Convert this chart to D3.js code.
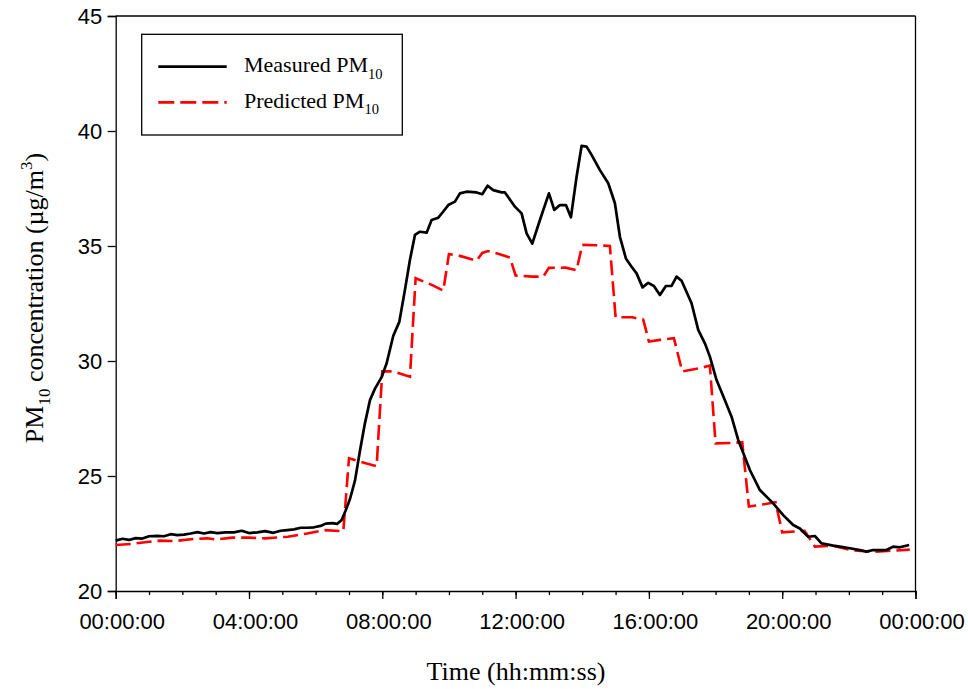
<!DOCTYPE html>
<html>
<head>
<meta charset="utf-8">
<script src="https://cdn.jsdelivr.net/npm/d3@7"></script>
<style>
  body { margin: 0; background: #fff; }
  svg { display: block; }
  .tick text { font-family: Arial, "Liberation Sans", sans-serif; font-size: 22px; fill: #000; }
  .serif { font-family: "Times New Roman", "Liberation Serif", serif; fill: #000; }
</style>
</head>
<body>
<div id="chart"></div>
<script>
// measured PM10, hours since midnight
const measuredHours = [0, 0.2, 0.4, 0.6, 0.8, 1.0, 1.25, 1.45, 1.65, 1.85, 2.05, 2.25, 2.45, 2.65, 2.85, 3.05, 3.3, 3.55, 3.78, 4.0,
  4.25, 4.48, 4.73, 4.95, 5.15, 5.35, 5.55, 5.75, 5.95, 6.15, 6.3, 6.5, 6.65, 6.78, 6.9, 7.03, 7.18, 7.33, 7.48, 7.63,
  7.78, 7.98, 8.13, 8.33, 8.51, 8.68, 8.83, 8.98, 9.13, 9.33, 9.48, 9.68, 9.83, 9.98, 10.18, 10.33, 10.53, 10.83, 11.0, 11.16,
  11.33, 11.58, 11.68, 11.98, 12.18, 12.33, 12.5, 12.73, 13.0, 13.16, 13.33, 13.51, 13.66, 13.83, 13.98, 14.13, 14.28, 14.53, 14.78, 14.98,
  15.13, 15.31, 15.48, 15.63, 15.81, 15.98, 16.15, 16.33, 16.51, 16.68, 16.83, 16.98, 17.28, 17.48, 17.68, 17.83, 18.03, 18.25, 18.48, 18.68,
  19.03, 19.33, 19.73, 20.03, 20.33, 20.53, 20.78, 20.98, 21.18, 21.53, 21.73, 22.03, 22.33, 22.53, 22.73, 23.13, 23.33, 23.53, 23.81];
const measuredValues = [22.19, 22.27, 22.22, 22.3, 22.28, 22.38, 22.4, 22.38, 22.47, 22.43, 22.45, 22.5, 22.56, 22.5, 22.56, 22.52, 22.55, 22.55, 22.62, 22.52,
  22.55, 22.6, 22.53, 22.62, 22.65, 22.68, 22.75, 22.75, 22.77, 22.83, 22.93, 22.95, 22.92, 23.09, 23.5, 24.0, 24.8, 26.1, 27.3, 28.3,
  28.8, 29.3, 29.9, 31.1, 31.7, 33.1, 34.4, 35.48, 35.62, 35.58, 36.13, 36.23, 36.5, 36.78, 36.93, 37.29, 37.36, 37.33, 37.25, 37.62,
  37.43, 37.33, 37.33, 36.71, 36.42, 35.55, 35.1, 36.13, 37.29, 36.57, 36.78, 36.78, 36.25, 38.01, 39.35, 39.32, 38.96, 38.3, 37.73, 36.86,
  35.4, 34.46, 34.1, 33.81, 33.2, 33.4, 33.26, 32.87, 33.26, 33.27, 33.67, 33.49, 32.51, 31.35, 30.77, 30.19, 29.17, 28.4, 27.58, 26.57,
  25.26, 24.39, 23.81, 23.3, 22.87, 22.72, 22.36, 22.39, 22.07, 21.97, 21.93, 21.86, 21.78, 21.71, 21.78, 21.78, 21.93, 21.9, 22.0];

// predicted PM10
const predictedHours = [0, 0.5, 0.75, 1.33, 1.75, 2.33, 2.75, 3.0, 3.5, 4.0, 4.5, 5.17, 5.75, 6.25, 6.83,
  7.0, 7.5, 7.83, 8.0, 8.33, 8.83, 9.0, 9.5, 9.83, 10.0, 10.33, 10.83, 11.0, 11.17, 11.5, 11.83,
  12.0, 12.5, 12.83, 13.0, 13.5, 13.83, 14.0, 14.5, 14.83, 15.0, 15.5, 15.83, 16.0, 16.33, 16.75,
  17.0, 17.5, 17.83, 18.0, 18.5, 18.8, 19.0, 19.5, 19.8, 20.0, 20.5, 20.67, 20.98, 21.5, 22.0, 22.25, 22.75, 23.17, 23.83];
const predictedValues = [22.0, 22.05, 22.1, 22.19, 22.17, 22.26, 22.29, 22.24, 22.32, 22.32, 22.29, 22.36, 22.5, 22.65, 22.6,
  25.77, 25.55, 25.43, 29.55, 29.55, 29.32, 33.6, 33.3, 33.06, 34.65, 34.57, 34.36, 34.7, 34.78, 34.65, 34.5,
  33.72, 33.67, 33.67, 34.05, 34.06, 33.95, 35.05, 35.03, 35.0, 31.9, 31.9, 31.8, 30.85, 30.92, 30.99,
  29.55, 29.68, 29.8, 26.42, 26.44, 26.47, 23.67, 23.78, 23.86, 22.55, 22.6, 22.62, 21.93, 21.97, 21.8, 21.75, 21.71, 21.74, 21.8];

const xMajorTicks = [0, 4, 8, 12, 16, 20, 24];
const xTickLabels = ['00:00:00', '04:00:00', '08:00:00', '12:00:00', '16:00:00', '20:00:00', '00:00:00'];
const xMinorTicks = d3.range(0, 25, 1);
const yTicks = [20, 25, 30, 35, 40, 45];

const width = 968, height = 689;
const margin = { top: 16, right: 52.5, bottom: 98, left: 115.7 };
const chartWidth = width - margin.left - margin.right;
const chartHeight = height - margin.top - margin.bottom;

const svg = d3.select('#chart').append('svg').attr('width', width).attr('height', height);
const g = svg.append('g').attr('transform', `translate(${margin.left},${margin.top})`);

const x = d3.scaleLinear().domain([0, 24]).range([0, chartWidth]);
const y = d3.scaleLinear().domain([20, 45]).range([chartHeight, 0]);

// frame top/right
g.append('line').attr('x1', 0).attr('x2', chartWidth).attr('y1', 0).attr('y2', 0).attr('stroke', '#000').attr('stroke-width', 1.3);
g.append('line').attr('x1', chartWidth).attr('x2', chartWidth).attr('y1', 0).attr('y2', chartHeight).attr('stroke', '#000').attr('stroke-width', 1.3);

// minor x ticks
g.append('g').attr('transform', `translate(0,${chartHeight})`)
  .call(d3.axisBottom(x).tickValues(xMinorTicks).tickSize(4).tickFormat(''))
  .call(a => a.select('.domain').remove());

const xAxis = g.append('g').attr('transform', `translate(0,${chartHeight})`)
  .call(d3.axisBottom(x).tickValues(xMajorTicks).tickSize(8).tickPadding(14)
    .tickFormat((d, i) => xTickLabels[i]));
xAxis.selectAll('text').attr('dx', 6);

const yAxis = g.append('g')
  .call(d3.axisLeft(y).tickValues(yTicks).tickSize(8).tickPadding(5.5));

g.selectAll('.domain').attr('stroke', '#000').attr('stroke-width', 1.3);
g.selectAll('.tick line').attr('stroke', '#000').attr('stroke-width', 1.3);

const line = d3.line().x(d => x(d[0])).y(d => y(d[1]));

g.append('path')
  .datum(predictedHours.map((h, i) => [h, predictedValues[i]]))
  .attr('fill', 'none').attr('stroke', '#ff0000').attr('stroke-width', 2.6)
  .attr('stroke-dasharray', '15,6').attr('d', line);

g.append('path')
  .datum(measuredHours.map((h, i) => [h, measuredValues[i]]))
  .attr('fill', 'none').attr('stroke', '#000').attr('stroke-width', 2.7)
  .attr('stroke-linejoin', 'round').attr('d', line);

// legend
const legend = svg.append('g');
legend.append('rect').attr('x', 141.7).attr('y', 34.3).attr('width', 260.6).attr('height', 100.7)
  .attr('fill', '#fff').attr('stroke', '#000').attr('stroke-width', 1.3);
const legendItems = [
  { label: 'Measured PM', color: '#000', dash: null, y: 66.7 },
  { label: 'Predicted PM', color: '#ff0000', dash: '16,6', y: 102.3 }
];
legendItems.forEach(item => {
  legend.append('line').attr('x1', 158.3).attr('x2', 226.7).attr('y1', item.y).attr('y2', item.y)
    .attr('stroke', item.color).attr('stroke-width', 2.8).attr('stroke-dasharray', item.dash);
  const t = legend.append('text').attr('class', 'serif').attr('x', 244).attr('y', item.y + 5.2)
    .style('font-size', '22px');
  t.append('tspan').text(item.label);
  t.append('tspan').attr('dy', 6.6).style('font-size', '14.5px').text('10');
});

// axis titles
svg.append('text').attr('class', 'serif').attr('x', 516).attr('y', 680)
  .attr('text-anchor', 'middle').style('font-size', '26px').text('Time (hh:mm:ss)');

const yTitle = svg.append('text').attr('class', 'serif')
  .attr('transform', 'translate(43,298) rotate(-90)')
  .attr('text-anchor', 'middle').style('font-size', '26px');
yTitle.append('tspan').text('PM');
yTitle.append('tspan').attr('dy', 7).style('font-size', '17px').text('10');
yTitle.append('tspan').attr('dy', -7).text(' concentration (µg/m');
yTitle.append('tspan').attr('dy', -11).style('font-size', '17px').text('3');
yTitle.append('tspan').attr('dy', 11).text(')');
</script>
</body>
</html>
